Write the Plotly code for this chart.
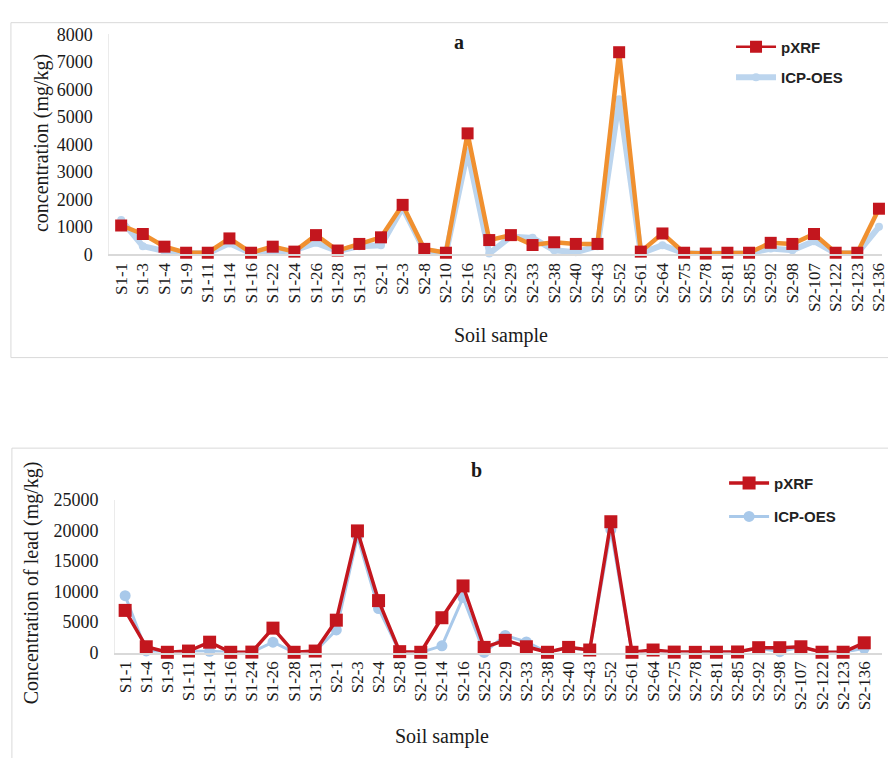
import plotly.graph_objects as go

# ---- data -------------------------------------------------------------
samples_a = ["S1-1", "S1-3", "S1-4", "S1-9", "S1-11", "S1-14", "S1-16", "S1-22",
             "S1-24", "S1-26", "S1-28", "S1-31", "S2-1", "S2-3", "S2-8", "S2-10",
             "S2-16", "S2-25", "S2-29", "S2-33", "S2-38", "S2-40", "S2-43", "S2-52",
             "S2-61", "S2-64", "S2-75", "S2-78", "S2-81", "S2-85", "S2-92", "S2-98",
             "S2-107", "S2-122", "S2-123", "S2-136"]
pxrf_a = [1050, 740, 280, 60, 60, 580, 60, 280, 100, 700, 140, 380, 620, 1800,
          200, 60, 4400, 520, 700, 340, 440, 380, 380, 7350, 100, 760, 60, 30,
          60, 60, 420, 380, 740, 60, 60, 1660]
icp_a = [1250, 300, 120, 40, 40, 400, 40, 120, 150, 420, 120, 300, 330, 1700,
         150, 40, 3750, 30, 650, 600, 150, 80, 300, 5640, 40, 330, 40, 30,
         40, 40, 210, 150, 480, 40, 40, 1000]

samples_b = ["S1-1", "S1-4", "S1-9", "S1-11", "S1-14", "S1-16", "S1-24", "S1-26",
             "S1-28", "S1-31", "S2-1", "S2-3", "S2-4", "S2-8", "S2-10", "S2-14",
             "S2-16", "S2-25", "S2-29", "S2-33", "S2-38", "S2-40", "S2-43", "S2-52",
             "S2-61", "S2-64", "S2-75", "S2-78", "S2-81", "S2-85", "S2-92", "S2-98",
             "S2-107", "S2-122", "S2-123", "S2-136"]
pxrf_b = [6900, 950, 50, 250, 1700, 50, 80, 4000, 50, 250, 5300, 19900, 8500,
          150, 50, 5700, 10900, 850, 2000, 950, 50, 850, 420, 21400, 50, 420,
          80, 40, 60, 100, 800, 800, 950, 60, 60, 1600]
icp_b = [9300, 270, 40, 200, 200, 40, 60, 1700, 40, 200, 3700, 19000, 7200,
         100, 40, 1100, 9000, 30, 2800, 1750, 40, 800, 350, 20100, 40, 350,
         60, 30, 50, 80, 700, 150, 900, 50, 50, 700]

ticks_a = [0, 1000, 2000, 3000, 4000, 5000, 6000, 7000, 8000]
ticks_b = [0, 5000, 10000, 15000, 20000, 25000]

# ---- styling ----------------------------------------------------------
W, H = 888, 758
SERIF = "Liberation Serif, Times New Roman, serif"
SANS = "Liberation Sans, Arial, sans-serif"
RED = "#C3161E"
ORANGE = "#F0902F"
BLUE_A = "#BCD5EE"
BLUE_B = "#A9C9EA"
AXIS_GRAY = "#D9D9D9"


def px_x(p):
    return p / W


def px_y(p):
    return 1 - p / H


fig = go.Figure()

# panel a
fig.add_trace(go.Scatter(
    x=samples_a, y=icp_a, name="ICP-OES", mode="lines+markers",
    line=dict(color=BLUE_A, width=6), marker=dict(symbol="circle", size=8, color=BLUE_A),
    xaxis="x", yaxis="y", legend="legend", legendrank=2, legendgroup="a_icp",
    cliponaxis=False,
))
fig.add_trace(go.Scatter(
    x=samples_a, y=pxrf_a, name="pXRF", mode="lines+markers",
    line=dict(color=ORANGE, width=4.5), marker=dict(symbol="square", size=12, color=RED),
    xaxis="x", yaxis="y", showlegend=False, cliponaxis=False,
))
# legend entry for pXRF in panel a (red line + red square)
fig.add_trace(go.Scatter(
    x=[None], y=[None], name="pXRF", mode="lines+markers",
    line=dict(color=RED, width=2.5), marker=dict(symbol="square", size=12, color=RED),
    xaxis="x", yaxis="y", legend="legend", legendrank=1, legendgroup="a_pxrf",
))

# panel b
fig.add_trace(go.Scatter(
    x=samples_b, y=icp_b, name="ICP-OES", mode="lines+markers",
    line=dict(color=BLUE_B, width=3), marker=dict(symbol="circle", size=11, color=BLUE_B),
    xaxis="x2", yaxis="y2", legend="legend2", legendrank=2, legendgroup="b_icp",
    cliponaxis=False,
))
fig.add_trace(go.Scatter(
    x=samples_b, y=pxrf_b, name="pXRF", mode="lines+markers",
    line=dict(color=RED, width=3.5), marker=dict(symbol="square", size=13, color=RED),
    xaxis="x2", yaxis="y2", legend="legend2", legendrank=1, legendgroup="b_pxrf",
    cliponaxis=False,
))

xcommon = dict(type="category", tickangle=-90, showgrid=False, zeroline=False,
               showline=True, linecolor=AXIS_GRAY, linewidth=1.5, ticks="",
               tickfont=dict(family=SERIF, size=17, color="#1a1a1a"), fixedrange=True)
ycommon = dict(showgrid=False, zeroline=False, showline=True, linecolor="#EBEBEB",
               linewidth=1, ticks="", ticklabelstandoff=12,
               tickfont=dict(family=SERIF, size=18, color="#1a1a1a"), fixedrange=True)

legend_common = dict(
    bgcolor="rgba(0,0,0,0)",
    font=dict(family=SANS, size=15, color="#222", weight="bold"),
    itemwidth=40, traceorder="grouped",
    xanchor="left", yanchor="top",
)

fig.update_layout(
    width=W, height=H, autosize=False,
    margin=dict(l=0, r=0, t=0, b=0),
    paper_bgcolor="white", plot_bgcolor="white",
    xaxis=dict(xcommon, domain=[px_x(110), 1], range=[-0.55, 35.14], anchor="y"),
    yaxis=dict(ycommon, domain=[px_y(251), px_y(25)], range=[0, 8000],
               tickvals=ticks_a, ticktext=[str(v) for v in ticks_a], anchor="x"),
    xaxis2=dict(xcommon, domain=[px_x(116), 1], range=[-0.47, 35.84], anchor="y2"),
    yaxis2=dict(ycommon, domain=[px_y(660), px_y(503)], range=[0, 25000],
                tickvals=ticks_b, ticktext=[str(v) for v in ticks_b], anchor="x2"),
    legend=dict(legend_common, x=px_x(736), y=px_y(21), tracegroupgap=8),
    legend2=dict(legend_common, x=px_x(729), y=px_y(469), tracegroupgap=11),
    showlegend=True,
)

# panel frames
fig.add_shape(type="rect", xref="paper", yref="paper",
              x0=px_x(11), x1=1.1, y0=px_y(357), y1=px_y(13),
              line=dict(color=AXIS_GRAY, width=1), layer="below")
fig.add_shape(type="rect", xref="paper", yref="paper",
              x0=px_x(12), x1=1.1, y0=-0.1, y1=px_y(450),
              line=dict(color=AXIS_GRAY, width=1), layer="below")

# titles and axis labels
annotations = [
    dict(text="<b>a</b>", x=px_x(462), y=px_y(33), font=dict(family=SERIF, size=20)),
    dict(text="<b>b</b>", x=px_x(480), y=px_y(472), font=dict(family=SERIF, size=20)),
    dict(text="concentration (mg/kg)", x=px_x(42), y=px_y(137), textangle=-90,
         font=dict(family=SERIF, size=20)),
    dict(text="Concentration of lead (mg/kg)", x=px_x(32), y=px_y(588), textangle=-90,
         font=dict(family=SERIF, size=20)),
    dict(text="Soil sample", x=px_x(504), y=px_y(334), font=dict(family=SERIF, size=20)),
    dict(text="Soil sample", x=px_x(445), y=px_y(746), font=dict(family=SERIF, size=20)),
]
for a in annotations:
    a.setdefault("xref", "paper")
    a.setdefault("yref", "paper")
    a.setdefault("showarrow", False)
    a.setdefault("xanchor", "center")
    a.setdefault("yanchor", "middle")
    a["font"]["color"] = "#1a1a1a"
    fig.add_annotation(**a)

fig.write_html("out.html")
